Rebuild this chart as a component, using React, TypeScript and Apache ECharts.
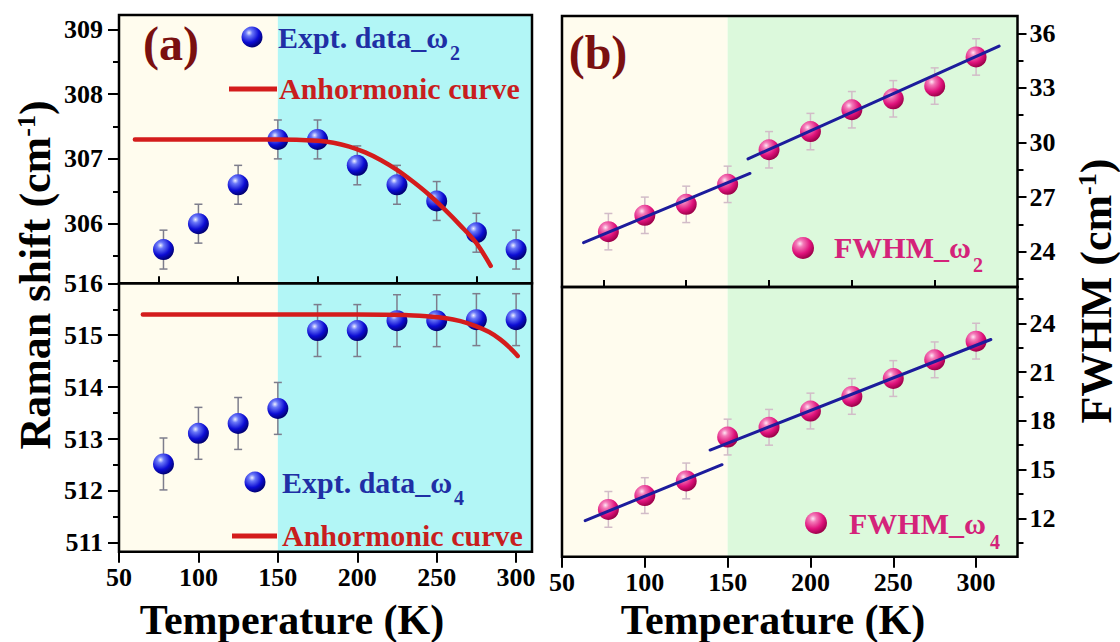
import React, { useEffect, useRef } from 'react';
import * as echarts from 'echarts';

// ---------------- data ----------------
const temps = [78, 100, 125, 150, 175, 200, 225, 250, 275, 300];
const omega2 = [305.6, 306.0, 306.6, 307.3, 307.3, 306.9, 306.6, 306.35, 305.86, 305.6];
const omega2Err = [0.3, 0.3, 0.3, 0.3, 0.3, 0.3, 0.3, 0.3, 0.3, 0.3];
const omega4 = [512.52, 513.11, 513.3, 513.59, 515.09, 515.09, 515.28, 515.28, 515.3, 515.3];
const omega4Err = [0.5, 0.5, 0.5, 0.5, 0.5, 0.5, 0.5, 0.5, 0.5, 0.5];
const fwhm2 = [25.1, 26.0, 26.6, 27.7, 29.6, 30.6, 31.8, 32.4, 33.1, 34.7];
const fwhm2Err = [1.0, 1.0, 1.0, 1.0, 1.0, 1.0, 1.0, 1.0, 1.0, 1.0];
const fwhm4 = [12.55, 13.4, 14.3, 17.0, 17.6, 18.6, 19.5, 20.6, 21.75, 22.9];
const fwhm4Err = [1.1, 1.1, 1.1, 1.1, 1.1, 1.1, 1.1, 1.1, 1.1, 1.1];

const anh2T = [60, 150, 175, 185, 195, 205, 215, 225, 235, 245, 255, 265, 275, 284];
const anh2W = [307.3, 307.3, 307.28, 307.25, 307.19, 307.1, 306.98, 306.83, 306.65, 306.45, 306.22, 305.97, 305.7, 305.35];
const anh4T = [65, 200, 230, 245, 255, 265, 275, 283, 290, 296, 301];
const anh4W = [515.4, 515.4, 515.39, 515.36, 515.33, 515.27, 515.17, 515.06, 514.92, 514.76, 514.6];

const fit2aT = [63, 163.5];
const fit2aW = [24.5, 28.3];
const fit2bT = [162.3, 313.9];
const fit2bW = [29.1, 35.3];
const fit4aT = [64, 146.6];
const fit4aW = [11.86, 15.3];
const fit4bT = [139.4, 308.9];
const fit4bW = [16.2, 23.0];

const regionLeft = [[50, 150], [150, 310]];
const regionRight = [[50, 150], [150, 325]];

const xTicks = [50, 100, 150, 200, 250, 300];
const xMinor = [75, 125, 175, 225, 275];
const yTicksA1 = [306, 307, 308, 309];
const yMinorA1 = [305.5, 306.5, 307.5, 308.5];
const yTicksA2 = [511, 512, 513, 514, 515, 516];
const yMinorA2 = [511.5, 512.5, 513.5, 514.5, 515.5];
const yTicksB1 = [24, 27, 30, 33, 36];
const yMinorB1 = [22.5, 25.5, 28.5, 31.5, 34.5];
const yTicksB2 = [12, 15, 18, 21, 24];
const yMinorB2 = [10.5, 13.5, 16.5, 19.5, 22.5, 25.5];

// ---------------- layout ----------------
const FONT = "'Liberation Serif', 'Times New Roman', serif";
const G = [
  { left: 119, top: 15, width: 413, height: 268.3 },
  { left: 119, top: 283.3, width: 413, height: 268.4 },
  { left: 562, top: 16, width: 455.5, height: 271 },
  { left: 562, top: 287, width: 455.5, height: 269.7 },
];

const zip = (a: number[], b: number[]) => a.map((v, i) => [v, b[i]]);
const zip3 = (a: number[], b: number[], c: number[]) => a.map((v, i) => [v, b[i], c[i]]);

const blueBall = () =>
  new echarts.graphic.RadialGradient(0.36, 0.3, 0.72, [
    { offset: 0, color: '#eef0ff' },
    { offset: 0.22, color: '#6a78f8' },
    { offset: 0.65, color: '#0c0cd4' },
    { offset: 1, color: '#000070' },
  ]);
const pinkBall = () =>
  new echarts.graphic.RadialGradient(0.36, 0.3, 0.72, [
    { offset: 0, color: '#ffe6f4' },
    { offset: 0.22, color: '#f37ab8' },
    { offset: 0.65, color: '#e0127c' },
    { offset: 1, color: '#9a0048' },
  ]);

function App() {
  const ref = useRef<HTMLDivElement>(null);
  useEffect(() => {
    if (!ref.current) return;
    const chart = echarts.init(ref.current, null, { renderer: 'svg' });

    const labelStyle = (margin: number) => ({
      fontFamily: FONT,
      fontWeight: 'bold',
      fontSize: 26,
      color: '#000',
      margin,
    });
    const tickLine = { color: '#000', width: 2 };

    const hiddenX = (gridIndex: number, max: number) => ({
      type: 'value', gridIndex, min: 50, max,
      axisLine: { show: false }, axisTick: { show: false }, axisLabel: { show: false }, splitLine: { show: false },
    });
    const mainX = (gridIndex: number, max: number) => ({
      type: 'value', gridIndex, min: 50, max,
      axisLine: { show: false }, splitLine: { show: false },
      axisTick: { show: true, customValues: xTicks, length: 11, lineStyle: tickLine },
      axisLabel: { show: true, customValues: xTicks, ...labelStyle(13) },
    });
    const minorX = (gridIndex: number, max: number) => ({
      type: 'value', gridIndex, min: 50, max,
      axisLine: { show: false }, splitLine: { show: false },
      axisTick: { show: true, customValues: xMinor, length: 7, lineStyle: tickLine },
      axisLabel: { show: false },
    });
    const mainY = (gridIndex: number, min: number, max: number, ticks: number[], position: string, len: number, margin: number) => ({
      type: 'value', gridIndex, min, max, position,
      axisLine: { show: false }, splitLine: { show: false },
      axisTick: { show: true, customValues: ticks, length: len, lineStyle: tickLine },
      axisLabel: { show: true, customValues: ticks, ...labelStyle(margin) },
    });
    const minorY = (gridIndex: number, min: number, max: number, ticks: number[], position: string) => ({
      type: 'value', gridIndex, min, max, position,
      axisLine: { show: false }, splitLine: { show: false },
      axisTick: { show: true, customValues: ticks, length: 6, lineStyle: tickLine },
      axisLabel: { show: false },
    });

    const bgSeries = (xi: number, yi: number, regions: number[][], colors: string[]) => ({
      type: 'custom', xAxisIndex: xi, yAxisIndex: yi, z: 0, silent: true,
      data: regions.map((r, i) => [r[0], r[1], i]),
      encode: { x: [0, 1] },
      renderItem: (params: any, api: any) => {
        const cs = params.coordSys;
        const x0 = api.coord([api.value(0), 0])[0];
        const x1 = api.coord([api.value(1), 0])[0];
        return {
          type: 'rect',
          shape: { x: x0, y: cs.y, width: x1 - x0, height: cs.height },
          style: { fill: colors[api.value(2)] },
        };
      },
    });

    const errSeries = (xi: number, yi: number, data: number[][], color: string) => ({
      type: 'custom', xAxisIndex: xi, yAxisIndex: yi, z: 2, silent: true,
      data,
      encode: { x: 0, y: 1 },
      renderItem: (params: any, api: any) => {
        const x = api.value(0), y = api.value(1), e = api.value(2);
        const t = api.coord([x, y + e]);
        const b = api.coord([x, y - e]);
        const c = 4;
        const st = { stroke: color, lineWidth: 1.5 };
        return {
          type: 'group',
          children: [
            { type: 'line', shape: { x1: t[0], y1: t[1], x2: b[0], y2: b[1] }, style: st },
            { type: 'line', shape: { x1: t[0] - c, y1: t[1], x2: t[0] + c, y2: t[1] }, style: st },
            { type: 'line', shape: { x1: b[0] - c, y1: b[1], x2: b[0] + c, y2: b[1] }, style: st },
          ],
        };
      },
    });

    const scatter = (xi: number, yi: number, data: number[][], fill: any) => ({
      type: 'scatter', xAxisIndex: xi, yAxisIndex: yi, z: 3, silent: true,
      symbol: 'circle', symbolSize: 21, data,
      itemStyle: { color: fill, opacity: 1 },
    });

    const line = (xi: number, yi: number, data: number[][], color: string, width: number, smooth: number | boolean) => ({
      type: 'line', xAxisIndex: xi, yAxisIndex: yi, z: 4, silent: true,
      data, showSymbol: false, symbol: 'none', smooth,
      lineStyle: { color, width, cap: 'round' },
    });

    const cream = '#fffcee';
    const cyan = '#b2f6f6';
    const green = '#dcf9dc';

    const txt = (x: number, y: number, text: string, size: number, fill: string, align = 'left', extra: any = {}) => ({
      type: 'text', x, y, z: 60, silent: true, ...extra,
      style: {
        text, fill, fontFamily: FONT, fontWeight: 'bold', fontSize: size, lineHeight: size,
        align, textAlign: align, verticalAlign: 'middle', textVerticalAlign: 'middle',
      },
    });
    const frame = (g: any) => ({
      type: 'rect', z: 50, silent: true,
      shape: { x: g.left, y: g.top, width: g.width, height: g.height },
      style: { fill: 'none', stroke: '#000', lineWidth: 2.5 },
    });
    const ball = (x: number, y: number, fill: any, r = 10.5) => ({
      type: 'circle', z: 60, silent: true, shape: { cx: x, cy: y, r }, style: { fill },
    });
    const seg = (x1: number, x2: number, y: number) => ({
      type: 'line', z: 60, silent: true, shape: { x1, y1: y, x2, y2: y },
      style: { stroke: '#d41c1c', lineWidth: 5 },
    });
    const rotTitle = (x: number, y: number, main: string) => ({
      type: 'text', x, y, z: 60, silent: true, rotation: Math.PI / 2,
      style: {
        text: `{a|${main} (cm}{b|-1}{a|)}`,
        align: 'center', textAlign: 'center', verticalAlign: 'middle', textVerticalAlign: 'middle',
        rich: {
          a: { fontFamily: FONT, fontWeight: 'bold', fontSize: 44, fill: '#000', lineHeight: 44, verticalAlign: 'middle' },
          b: { fontFamily: FONT, fontWeight: 'bold', fontSize: 26, fill: '#000', lineHeight: 24, verticalAlign: 'top' },
        },
      },
    });

    const blueText = '#1f2fa5';
    const redText = '#c81e1e';
    const pinkText = '#d4237a';

    chart.setOption({
      animation: false,
      backgroundColor: '#ffffff',
      grid: G.map((g) => ({ ...g, show: false, containLabel: false })),
      xAxis: [
        hiddenX(0, 310),
        mainX(1, 310),
        minorX(1, 310),
        hiddenX(2, 325),
        mainX(3, 325),
        minorX(3, 325),
      ],
      yAxis: [
        mainY(0, 305.08, 309.22, yTicksA1, 'left', 11, 16),
        minorY(0, 305.08, 309.22, yMinorA1, 'left'),
        mainY(1, 510.83, 516, yTicksA2, 'left', 11, 16),
        minorY(1, 510.83, 516, yMinorA2, 'left'),
        mainY(2, 22.06, 36.95, yTicksB1, 'right', 9, 12),
        minorY(2, 22.06, 36.95, yMinorB1, 'right'),
        mainY(3, 9.64, 26.23, yTicksB2, 'right', 9, 12),
        minorY(3, 9.64, 26.23, yMinorB2, 'right'),
      ],
      series: [
        bgSeries(0, 0, regionLeft, [cream, cyan]),
        bgSeries(1, 2, regionLeft, [cream, cyan]),
        bgSeries(3, 4, regionRight, [cream, green]),
        bgSeries(4, 6, regionRight, [cream, green]),

        errSeries(0, 0, zip3(temps, omega2, omega2Err), '#7d7d8c'),
        errSeries(1, 2, zip3(temps, omega4, omega4Err), '#7d7d8c'),
        errSeries(3, 4, zip3(temps, fwhm2, fwhm2Err), '#d2bcc8'),
        errSeries(4, 6, zip3(temps, fwhm4, fwhm4Err), '#d2bcc8'),

        scatter(0, 0, zip(temps, omega2), blueBall()),
        scatter(1, 2, zip(temps, omega4), blueBall()),
        scatter(3, 4, zip(temps, fwhm2), pinkBall()),
        scatter(4, 6, zip(temps, fwhm4), pinkBall()),

        line(0, 0, zip(anh2T, anh2W), '#d41c1c', 4.5, 0.3),
        line(1, 2, zip(anh4T, anh4W), '#d41c1c', 4.5, 0.3),
        line(3, 4, zip(fit2aT, fit2aW), '#1c1c9c', 3, false),
        line(3, 4, zip(fit2bT, fit2bW), '#1c1c9c', 3, false),
        line(4, 6, zip(fit4aT, fit4aW), '#1c1c9c', 3, false),
        line(4, 6, zip(fit4bT, fit4bW), '#1c1c9c', 3, false),
      ],
      graphic: {
        elements: [
          ...G.map(frame),
          txt(171, 43, '(a)', 48, '#7a1010', 'center'),
          txt(598, 52, '(b)', 48, '#7a1010', 'center'),

          ball(252, 37, blueBall()),
          txt(278, 37, 'Expt. data_ω', 30, blueText),
          txt(455, 53, '2', 20, blueText, 'center'),
          seg(229, 277, 89),
          txt(279, 88, 'Anhormonic curve', 30, redText),

          ball(255, 482, blueBall()),
          txt(282, 482, 'Expt. data_ω', 30, blueText),
          txt(459, 498, '4', 20, blueText, 'center'),
          seg(232, 277, 536),
          txt(282, 535, 'Anhormonic curve', 30, redText),

          ball(803, 248, pinkBall(), 11),
          txt(834, 247, 'FWHM_ω', 30, pinkText),
          txt(978, 265, '2', 20, pinkText, 'center'),
          ball(816, 523, pinkBall(), 11),
          txt(849, 523, 'FWHM_ω', 30, pinkText),
          txt(995, 542, '4', 20, pinkText, 'center'),

          txt(292, 620, 'Temperature (K)', 42, '#000', 'center'),
          txt(773, 620, 'Temperature (K)', 42, '#000', 'center'),
          rotTitle(35, 275, 'Raman shift'),
          rotTitle(1096, 291, 'FWHM'),
        ],
      },
    });
    return () => chart.dispose();
  }, []);
  return (
    <div
      ref={ref}
      style={{ position: 'fixed', left: 0, top: 0, width: 1120, height: 642, background: '#fff' }}
    />
  );
}

export default App;
